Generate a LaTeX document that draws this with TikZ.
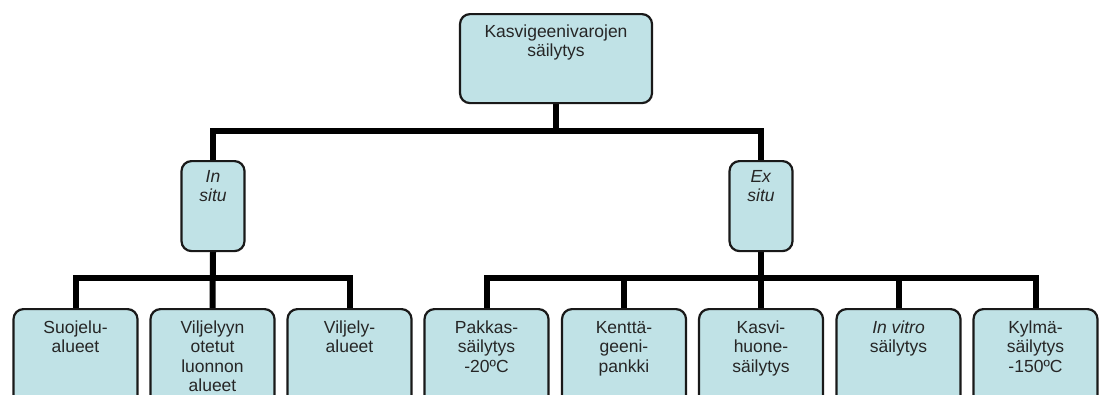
\documentclass[tikz,border=0pt]{standalone}
\usepackage{fontspec}
\setmainfont{Liberation Sans}
\newcommand\firstline{\rule{0pt}{14pt}}
\pgfdeclarelayer{background}
\pgfsetlayers{background,main}
\definecolor{boxfill}{RGB}{192,226,230}
\definecolor{boxline}{RGB}{25,25,25}
\tikzset{
  box/.style={draw=boxline, line width=2.2pt, fill=boxfill, rounded corners=10pt,
    inner sep=0pt, anchor=north},
  leaf/.style={box, minimum width=124pt, minimum height=110pt},
  mid/.style={box, minimum width=63pt, minimum height=90pt},
  txt/.style={font=\fontsize{17.5}{19.5}\selectfont, align=center, anchor=north,
    inner sep=0pt, text=black!85},
  conn/.style={line width=6pt, black},
}
\begin{document}
\begin{tikzpicture}[x=1pt,y=-1pt]
\useasboundingbox (0,0) rectangle (1100,394);
\clip (0,0) rectangle (1100,394);

% top
\node[box, minimum width=192pt, minimum height=89pt] (top) at (556,13) {};
\node[txt] (ttop) at (556,23) {\firstline Kasvigeenivarojen\\säilytys};

% middle
\node[mid] (insitu) at (213,160) {};
\node[txt] (tinsitu) at (213,168) {\firstline\textit{In}\\\textit{situ}};
\node[mid] (exsitu) at (761,160) {};
\node[txt] (texsitu) at (761,168) {\firstline\textit{Ex}\\\textit{situ}};

% leaves
\node[leaf] (l1) at (75.5,308) {};
\node[txt] (tl1) at (75.5,319) {\firstline Suojelu-\\alueet};
\node[leaf] (l2) at (212.5,308) {};
\node[txt] (tl2) at (212.5,319) {\firstline Viljelyyn\\otetut\\luonnon\\alueet};
\node[leaf] (l3) at (349.5,308) {};
\node[txt] (tl3) at (349.5,319) {\firstline Viljely-\\alueet};

\node[leaf] (r1) at (486.5,308) {};
\node[txt] (tr1) at (486.5,319) {\firstline Pakkas-\\säilytys\\-20ºC};
\node[leaf] (r2) at (624,308) {};
\node[txt] (tr2) at (624,319) {\firstline Kenttä-\\geeni-\\pankki};
\node[leaf] (r3) at (761,308) {};
\node[txt] (tr3) at (761,319) {\firstline Kasvi-\\huone-\\säilytys};
\node[leaf] (r4) at (898.5,308) {};
\node[txt] (tr4) at (898.5,319) {\firstline\textit{In vitro}\\säilytys};
\node[leaf] (r5) at (1035.5,308) {};
\node[txt] (tr5) at (1035.5,319) {\firstline Kylmä-\\säilytys\\-150ºC};

\coordinate (jtop) at (556,131);
\coordinate (jl) at (213,278);
\coordinate (jr) at (761,278);

\begin{pgfonlayer}{background}
\draw[conn] (top.south) -- (jtop);
\draw[conn] (insitu.north) -- (insitu.north |- jtop) -- (exsitu.north |- jtop) -- (exsitu.north);

\draw[conn] (insitu.south) -- (l2.north);
\draw[conn] (l1.north) -- (l1.north |- jl) -- (l3.north |- jl) -- (l3.north);

\draw[conn] (exsitu.south) -- (r3.north);
\draw[conn] (r1.north) -- (r1.north |- jr) -- (r5.north |- jr) -- (r5.north);
\draw[conn] (r2.north |- jr) -- (r2.north);
\draw[conn] (r4.north |- jr) -- (r4.north);
\end{pgfonlayer}
\end{tikzpicture}
\end{document}
